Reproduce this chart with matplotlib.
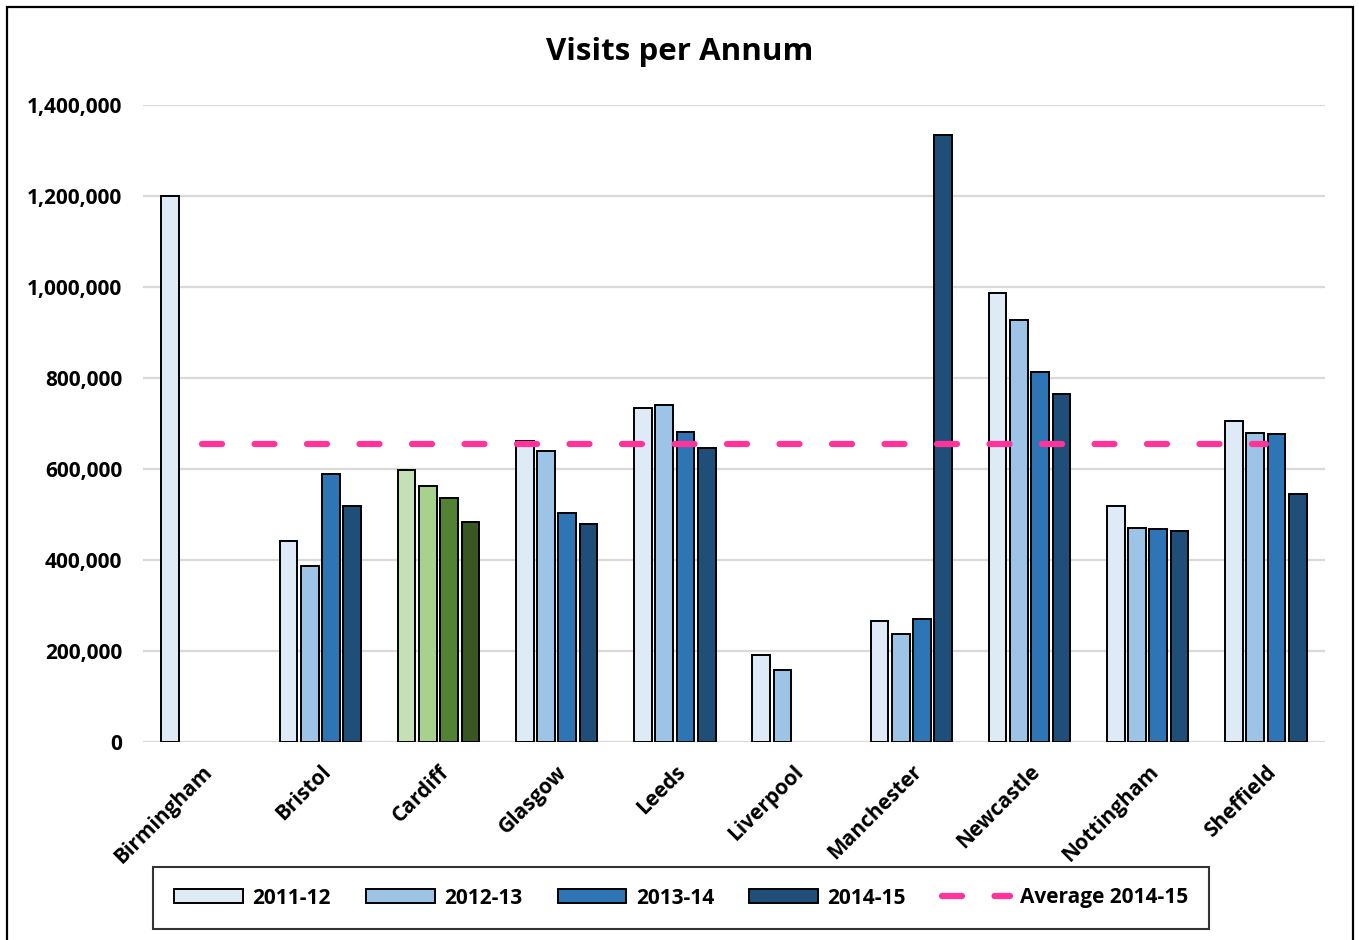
import numpy as np
import matplotlib
matplotlib.use("Agg")
import matplotlib.pyplot as plt
from matplotlib.patches import Rectangle, Patch
from matplotlib.lines import Line2D
from matplotlib.ticker import FuncFormatter

plt.rcParams['font.family'] = ['Open Sans', 'DejaVu Sans']
plt.rcParams['font.weight'] = 'bold'

cities = ["Birmingham", "Bristol", "Cardiff", "Glasgow", "Leeds", "Liverpool",
          "Manchester", "Newcastle", "Nottingham", "Sheffield"]
series_names = ["2011-12", "2012-13", "2013-14", "2014-15"]
v_2011_12 = [1200000, 442000, 598000, 662000, 734000, 191000, 267000, 986000, 519000, 705000]
v_2012_13 = [np.nan, 386000, 563000, 639000, 741000, 159000, 238000, 928000, 471000, 680000]
v_2013_14 = [np.nan, 588000, 537000, 504000, 681000, np.nan, 271000, 814000, 469000, 678000]
v_2014_15 = [np.nan, 519000, 484000, 479000, 646000, np.nan, 1333000, 765000, 463000, 546000]
average_2014_15 = 655000
yticks = [0, 200000, 400000, 600000, 800000, 1000000, 1200000, 1400000]

blues = ["#DEEBF7", "#9DC3E6", "#2E75B6", "#1F4E79"]
greens = ["#C5E0B4", "#A9D18E", "#548235", "#385723"]
pink = "#FF3399"

FS = 15

fig = plt.figure(figsize=(13.59, 9.40), dpi=100)
ax = fig.add_axes([143/1359, 1 - 742/940, (1325-143)/1359, (742-105)/940])

x = np.arange(len(cities))
spacing = 0.18
width = 0.15
all_series = [v_2011_12, v_2012_13, v_2013_14, v_2014_15]
for i, vals in enumerate(all_series):
    cols = [greens[i] if c == "Cardiff" else blues[i] for c in cities]
    ax.bar(x + (i - 1.5) * spacing, vals, width=width, color=cols,
           edgecolor="black", linewidth=1.4, zorder=3)

ax.plot(x, [average_2014_15] * len(x), color=pink, linewidth=4.5,
        dashes=(3.2, 5.2), dash_capstyle='round', zorder=4)

ax.set_xlim(-0.5, len(cities) - 0.5)
ax.set_ylim(0, 1400000)
ax.set_yticks(yticks)
ax.yaxis.set_major_formatter(FuncFormatter(lambda v, p: f"{int(v):,}"))
ax.grid(axis='y', color="#D9D9D9", linewidth=1.6, zorder=0)
ax.set_axisbelow(True)
for s in ax.spines.values():
    s.set_visible(False)
ax.tick_params(axis='both', length=0, labelsize=FS)
ax.tick_params(axis='y', pad=15)
ax.set_xticks(x)
ax.set_xticklabels(cities, rotation=45, ha='right', va='top',
                   rotation_mode='anchor', fontweight='bold', fontsize=FS)
ax.tick_params(axis='x', pad=14)
for lab in ax.get_yticklabels():
    lab.set_fontweight('bold')

fig.text(0.5, 1 - 52/940, "Visits per Annum", ha='center', va='center',
         fontsize=22.5, fontweight='bold')

handles = [Patch(facecolor=blues[i], edgecolor="black", linewidth=1.4) for i in range(4)]
handles.append(Line2D([0], [0], color=pink, linewidth=4.5, dashes=(3.2, 5.2),
                      dash_capstyle='round'))
labels = series_names + ["Average 2014-15"]
leg = fig.legend(handles, labels, loc='center', ncol=5,
                 bbox_to_anchor=((152 + 1210) / 2 / 1359, 1 - 898/940),
                 frameon=True, fancybox=False, edgecolor='black',
                 prop={'weight': 'bold', 'size': FS},
                 handlelength=3.3, handleheight=0.67, columnspacing=1.7,
                 handletextpad=0.45, borderpad=1.0)
leg.get_frame().set_linewidth(1.5)

fig.patches.append(Rectangle((7/1359, -0.01), (1353-7)/1359, 1.01 - 7/940,
                             transform=fig.transFigure, fill=False,
                             edgecolor='black', linewidth=1.6))

fig.savefig("out.png", dpi=100)
